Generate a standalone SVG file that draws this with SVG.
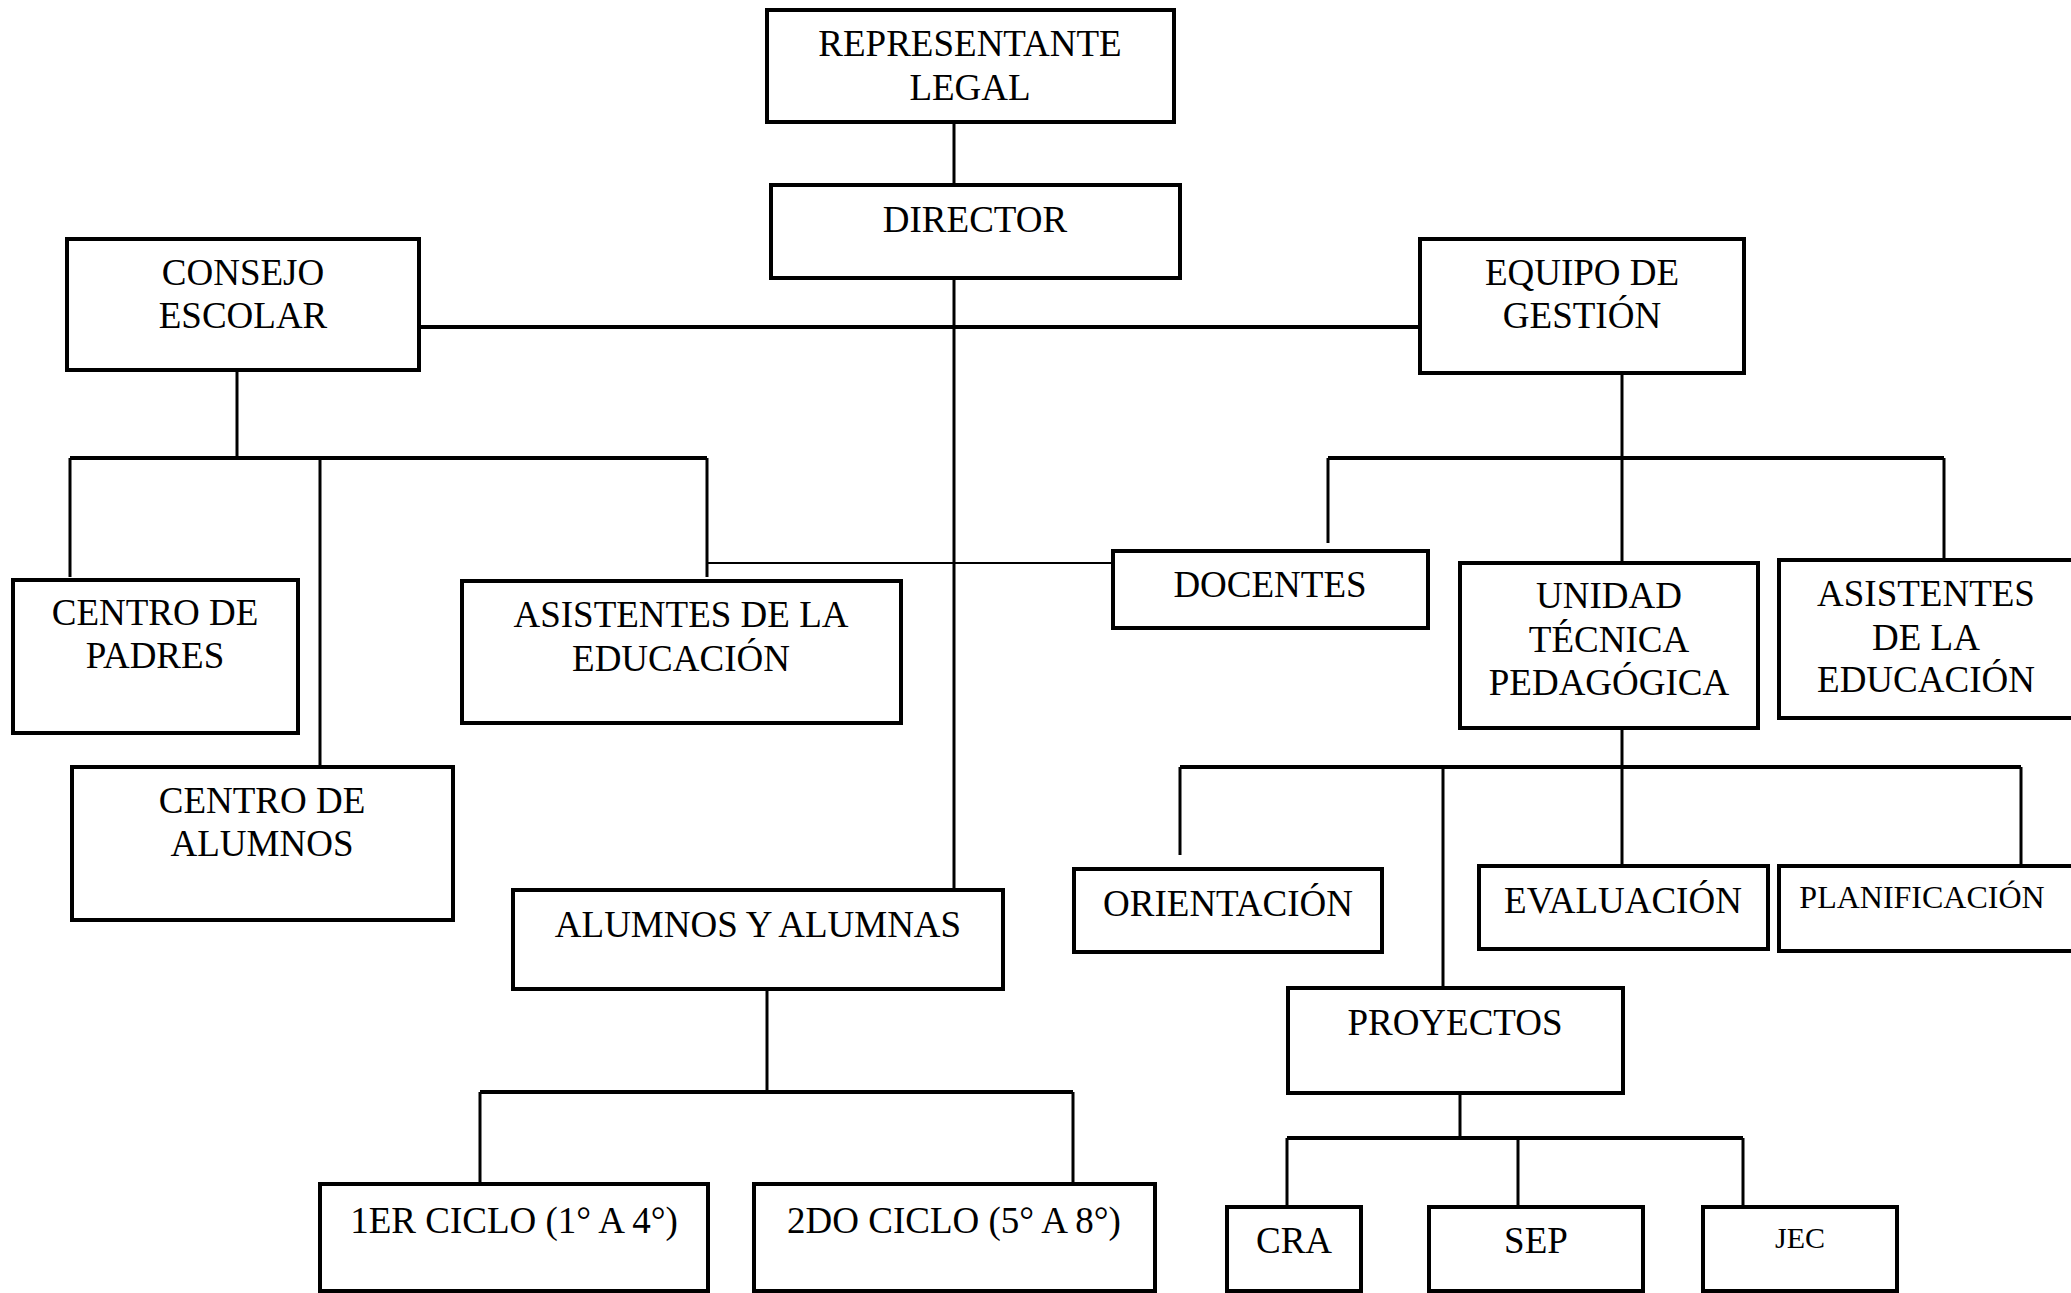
<svg xmlns="http://www.w3.org/2000/svg" width="2071" height="1293" viewBox="0 0 2071 1293">
<style>
.box{fill:#fff;stroke:#000;stroke-width:4}
.t{font-family:"Liberation Serif","Times New Roman",serif;font-size:37px;fill:#000;text-anchor:middle}
.s{font-size:32px}
.v{stroke:#000;stroke-width:3;fill:none}
.h{stroke:#000;stroke-width:4;fill:none}
.thin{stroke:#000;stroke-width:2;fill:none}
</style>
<rect width="2071" height="1293" fill="#fff"/>
<g id="connectors">
<path class="v" d="M954 124V183M954 280V888"/>
<path class="h" d="M421 327H1418"/>
<path class="v" d="M237 372V458"/>
<path class="h" d="M70 458H707"/>
<path class="v" d="M70 458V577M320 458V765M707 458V577"/>
<path class="thin" d="M707 563H1111"/>
<path class="v" d="M1622 375V561"/>
<path class="h" d="M1328 458H1944"/>
<path class="v" d="M1328 458V543M1944 458V558"/>
<path class="v" d="M1622 730V767"/>
<path class="h" d="M1180 767H2021"/>
<path class="v" d="M1180 767V855M1443 767V986M1622 767V864M2021 767V864"/>
<path class="v" d="M1460 1095V1138"/>
<path class="h" d="M1287 1138H1743"/>
<path class="v" d="M1287 1138V1205M1518 1138V1205M1743 1138V1205"/>
<path class="v" d="M767 991V1092"/>
<path class="h" d="M480 1092H1073"/>
<path class="v" d="M480 1092V1182M1073 1092V1182"/>
</g>
<g id="representante"><rect class="box" x="767" y="10" width="407" height="112"/><text class="t" x="970" y="56">REPRESENTANTE</text><text class="t" x="970" y="100">LEGAL</text></g>
<g id="director"><rect class="box" x="771" y="185" width="409" height="93"/><text class="t" x="975" y="232">DIRECTOR</text></g>
<g id="consejo"><rect class="box" x="67" y="239" width="352" height="131"/><text class="t" x="243" y="285">CONSEJO</text><text class="t" x="243" y="328">ESCOLAR</text></g>
<g id="equipo"><rect class="box" x="1420" y="239" width="324" height="134"/><text class="t" x="1582" y="285">EQUIPO DE</text><text class="t" x="1582" y="328">GESTIÓN</text></g>
<g id="padres"><rect class="box" x="13" y="580" width="285" height="153"/><text class="t" x="155" y="625">CENTRO DE</text><text class="t" x="155" y="668">PADRES</text></g>
<g id="asistentes1"><rect class="box" x="462" y="581" width="439" height="142"/><text class="t" x="681" y="627">ASISTENTES DE LA</text><text class="t" x="681" y="671">EDUCACIÓN</text></g>
<g id="alumnos-centro"><rect class="box" x="72" y="767" width="381" height="153"/><text class="t" x="262" y="813">CENTRO DE</text><text class="t" x="262" y="856">ALUMNOS</text></g>
<g id="alumnos"><rect class="box" x="513" y="890" width="490" height="99"/><text class="t" x="758" y="937">ALUMNOS Y ALUMNAS</text></g>
<g id="ciclo1"><rect class="box" x="320" y="1184" width="388" height="107"/><text class="t" x="514" y="1233">1ER CICLO (1° A 4°)</text></g>
<g id="ciclo2"><rect class="box" x="754" y="1184" width="401" height="107"/><text class="t" x="954" y="1233">2DO CICLO (5° A 8°)</text></g>
<g id="docentes"><rect class="box" x="1113" y="551" width="315" height="77"/><text class="t" x="1270" y="597">DOCENTES</text></g>
<g id="utp"><rect class="box" x="1460" y="563" width="298" height="165"/><text class="t" x="1609" y="608">UNIDAD</text><text class="t" x="1609" y="652">TÉCNICA</text><text class="t" x="1609" y="695">PEDAGÓGICA</text></g>
<g id="asistentes2"><rect class="box" x="1779" y="560" width="310" height="158"/><text class="t" x="1926" y="606">ASISTENTES</text><text class="t" x="1926" y="650">DE LA</text><text class="t" x="1926" y="692">EDUCACIÓN</text></g>
<g id="orientacion"><rect class="box" x="1074" y="869" width="308" height="83"/><text class="t" x="1228" y="916">ORIENTACIÓN</text></g>
<g id="evaluacion"><rect class="box" x="1479" y="866" width="289" height="83"/><text class="t" x="1623" y="913">EVALUACIÓN</text></g>
<g id="planificacion"><rect class="box" x="1779" y="866" width="310" height="85"/><text class="t s" x="1922" y="908">PLANIFICACIÓN</text></g>
<g id="proyectos"><rect class="box" x="1288" y="988" width="335" height="105"/><text class="t" x="1455" y="1035">PROYECTOS</text></g>
<g id="cra"><rect class="box" x="1227" y="1207" width="134" height="84"/><text class="t" x="1294" y="1253">CRA</text></g>
<g id="sep"><rect class="box" x="1429" y="1207" width="214" height="84"/><text class="t" x="1536" y="1253">SEP</text></g>
<g id="jec"><rect class="box" x="1703" y="1207" width="194" height="84"/><text class="t" style="font-size:30px" x="1800" y="1248">JEC</text></g>
</svg>
